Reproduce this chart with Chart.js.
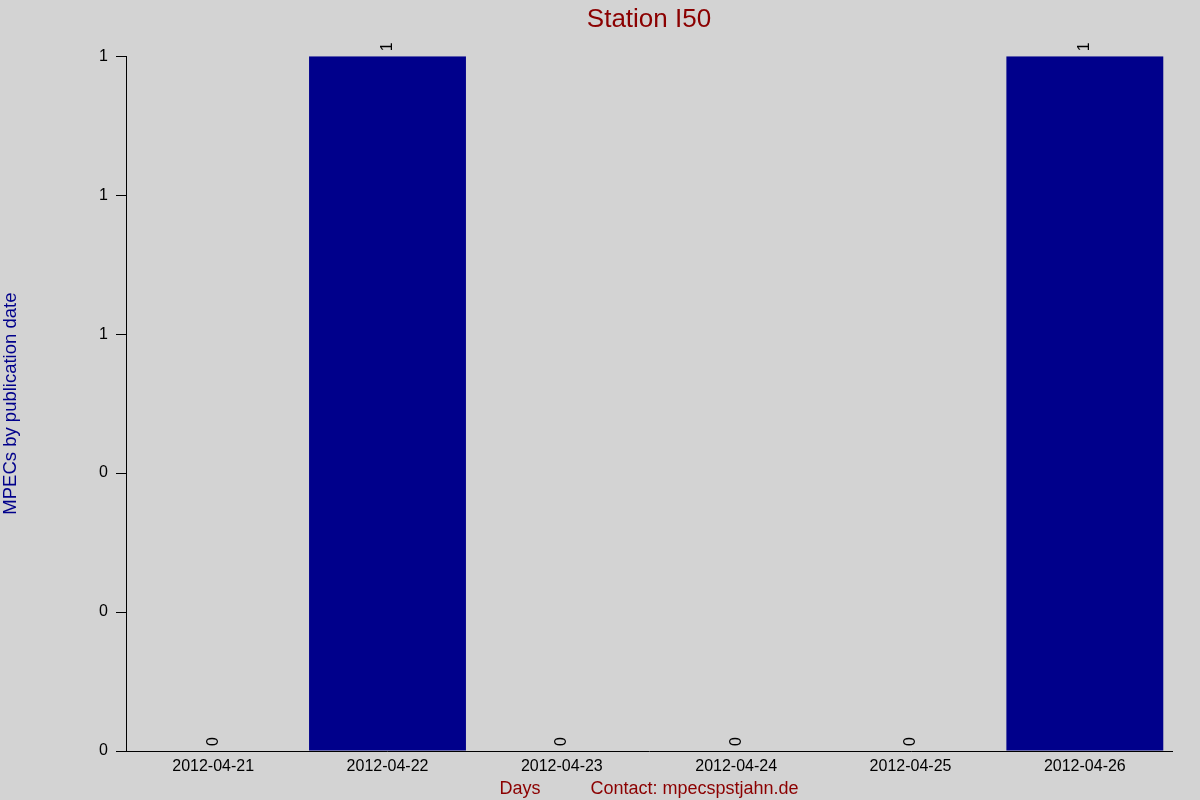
<!DOCTYPE html>
<html>
<head>
<meta charset="utf-8">
<title>Station I50</title>
<script src="https://cdn.jsdelivr.net/npm/chart.js@4"></script>
<style>
  html, body { margin: 0; padding: 0; background: #d3d3d3; }
  canvas { display: block; }
</style>
</head>
<body>
<canvas id="mpecChart" width="1200" height="800"></canvas>
<script>
// data
const days = ['2012-04-21', '2012-04-22', '2012-04-23', '2012-04-24', '2012-04-25', '2012-04-26'];
const mpecCounts = [0, 1, 0, 0, 0, 1];
const yTickValues = [0, 0.2, 0.4, 0.6, 0.8, 1];

const FONT = "'Liberation Sans', Arial, sans-serif";

// rotated value labels sitting on top of each bar
const valueLabels = {
    id: 'valueLabels',
    afterDatasetsDraw(chart) {
        const ctx = chart.ctx;
        const meta = chart.getDatasetMeta(0);
        ctx.save();
        ctx.font = '16px ' + FONT;
        ctx.fillStyle = '#000';
        ctx.textAlign = 'left';
        ctx.textBaseline = 'middle';
        meta.data.forEach((bar, i) => {
            ctx.save();
            ctx.translate(bar.x, bar.y - 5);
            ctx.rotate(-Math.PI / 2);
            ctx.fillText(String(mpecCounts[i]), 0, 0);
            ctx.restore();
        });
        ctx.restore();
    }
};

Chart.defaults.font.family = FONT;
Chart.defaults.color = '#000';

new Chart(document.getElementById('mpecChart'), {
    type: 'bar',
    data: {
        labels: days,
        datasets: [{
            data: mpecCounts,
            backgroundColor: '#00008b',
            borderWidth: 0,
            barPercentage: 0.9,
            categoryPercentage: 1.0
        }]
    },
    options: {
        responsive: false,
        animation: false,
        devicePixelRatio: 1,
        layout: { padding: { left: 0, right: 28, top: 0, bottom: 0 } },
        plugins: {
            legend: { display: false },
            tooltip: { enabled: false },
            title: {
                display: true,
                fullSize: false,
                text: 'Station I50',
                color: '#8b0000',
                font: { size: 26, weight: 'normal' },
                padding: { top: 4, bottom: 21 }
            }
        },
        scales: {
            x: {
                offset: true,
                grid: { display: false, drawTicks: false },
                border: { display: true, color: '#000', width: 1 },
                ticks: { padding: 6, font: { size: 16 }, maxRotation: 0 },
                title: {
                    display: true,
                    text: 'Days          Contact: mpecspstjahn.de',
                    color: '#8b0000',
                    font: { size: 18 },
                    padding: { top: 3, bottom: 0 }
                },
                afterFit(scale) { scale.height = 49; }
            },
            y: {
                min: 0,
                max: 1,
                afterBuildTicks(scale) { scale.ticks = yTickValues.map(v => ({ value: v })); },
                grid: { drawOnChartArea: false, drawTicks: true, tickLength: 10, color: '#000' },
                border: { display: true, color: '#000', width: 1 },
                ticks: { padding: 8, font: { size: 16 }, callback: v => Math.round(v) },
                title: {
                    display: true,
                    text: 'MPECs by publication date',
                    color: '#00008b',
                    font: { size: 18.5 },
                    padding: { top: 0, bottom: 0 }
                },
                afterFit(scale) { scale.width = 126; }
            }
        }
    },
    plugins: [valueLabels]
});
</script>
</body>
</html>
